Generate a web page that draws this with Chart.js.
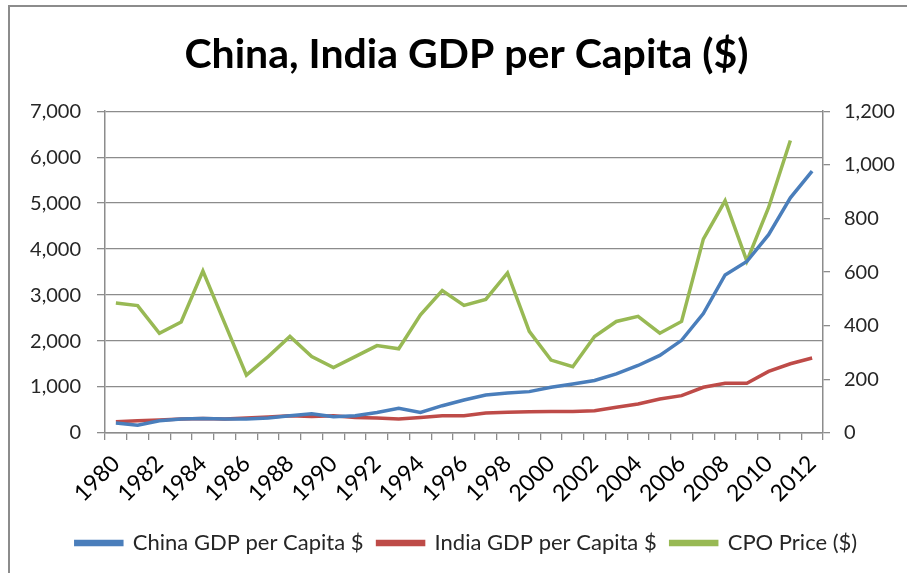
<!DOCTYPE html>
<html>
<head>
<meta charset="utf-8">
<title>China, India GDP per Capita</title>
<script src="https://cdn.jsdelivr.net/npm/chart.js@4.4.1/dist/chart.umd.min.js"></script>
<style>
    html, body { margin: 0; padding: 0; background: #fff; }
    #wrap { position: relative; width: 907px; height: 573px; overflow: hidden; }
    #frame {
        position: absolute; left: 8px; top: 5px; right: -4px; bottom: -4px;
        border-left: 2px solid #8c8c8c; border-top: 2px solid #8c8c8c;
    }
    #chart { position: absolute; left: 0; top: 0; }
</style>
</head>
<body>
<div id="wrap">
    <div id="frame"></div>
    <canvas id="chart" width="907" height="573"></canvas>
</div>
<script>
// Categories
const years = ['1980', '1981', '1982', '1983', '1984', '1985', '1986', '1987', '1988', '1989',
    '1990', '1991', '1992', '1993', '1994', '1995', '1996', '1997', '1998', '1999',
    '2000', '2001', '2002', '2003', '2004', '2005', '2006', '2007', '2008', '2009',
    '2010', '2011', '2012'];

// GDP per capita, left axis ($)
const chinaGdp = [215, 171, 266, 303, 317, 303, 303, 324, 376, 419,
    354, 376, 448, 536, 448, 594, 718, 827, 871, 900,
    995, 1068, 1141, 1287, 1469, 1688, 2016, 2599, 3438, 3730,
    4313, 5115, 5698];
const indiaGdp = [244, 266, 281, 303, 317, 303, 324, 346, 376, 361,
    376, 339, 324, 303, 339, 376, 376, 434, 449, 463,
    470, 470, 485, 558, 631, 740, 813, 995, 1083, 1083,
    1339, 1506, 1630];

// CPO price, right axis ($) - no 2012 value
const cpoPrice = [485, 475, 372, 414, 604, 410, 216, 285, 360, 285,
    244, 285, 326, 314, 441, 531, 476, 498, 597, 379,
    272, 247, 360, 416, 435, 372, 416, 723, 866, 641,
    841, 1091, null];

// Axis ranges
const leftTicks = { min: 0, max: 7000, step: 1000 };
const rightTicks = { min: 0, max: 1200, step: 200 };

const FONT = 'Lato, "Open Sans", sans-serif';
const GRID = '#8c8c8c';

function fmt(v) {
    return Number(v).toLocaleString('en-US');
}

function lineSet(label, data, color, axis) {
    return {
        label: label,
        data: data,
        yAxisID: axis,
        borderColor: color,
        backgroundColor: color,
        borderWidth: 3.5,
        pointRadius: 0,
        tension: 0,
        spanGaps: false
    };
}

new Chart(document.getElementById('chart'), {
    type: 'line',
    data: {
        labels: years,
        datasets: [
            lineSet('China GDP per Capita $', chinaGdp, '#4a7ebb', 'y'),
            lineSet('India GDP per Capita $', indiaGdp, '#be4b48', 'y'),
            lineSet('CPO Price ($)', cpoPrice, '#98b954', 'y1')
        ]
    },
    options: {
        responsive: false,
        animation: false,
        // left padding nudges the legend right; y axis width below keeps the plot at x=105
        layout: { padding: { left: 26, right: 0, top: 0, bottom: 9 } },
        plugins: {
            title: {
                display: true,
                text: 'China, India GDP per Capita ($)',
                color: '#000',
                font: { family: FONT, size: 41, weight: 'bold' },
                padding: { top: 30, bottom: 32 }
            },
            legend: {
                position: 'bottom',
                labels: {
                    color: '#262626',
                    font: { family: FONT, size: 22 },
                    boxWidth: 46,
                    boxHeight: 3,
                    padding: 14
                }
            },
            tooltip: { enabled: false }
        },
        scales: {
            x: {
                offset: true,
                grid: { offset: true, drawOnChartArea: false, color: GRID, lineWidth: 1.3, tickLength: 7 },
                border: { color: GRID, width: 1.5 },
                ticks: {
                    autoSkip: false,
                    minRotation: 45,
                    maxRotation: 45,
                    padding: 10,
                    color: '#000',
                    font: { family: FONT, size: 23 },
                    callback: function(val, i) {
                        return i % 2 === 0 ? years[i] : '';
                    }
                },
                afterFit: function(scale) { scale.height = 85; }
            },
            y: {
                position: 'left',
                min: leftTicks.min,
                max: leftTicks.max,
                grid: { color: GRID, lineWidth: 1.3, tickLength: 8 },
                border: { color: GRID, width: 1.5 },
                ticks: {
                    stepSize: leftTicks.step,
                    padding: 16,
                    color: '#262626',
                    font: { family: FONT, size: 20 },
                    callback: fmt
                },
                afterFit: function(scale) { scale.width = 79; }
            },
            y1: {
                position: 'right',
                min: rightTicks.min,
                max: rightTicks.max,
                grid: { drawOnChartArea: false, color: GRID, lineWidth: 1.3, tickLength: 7 },
                border: { color: GRID, width: 1.5 },
                ticks: {
                    stepSize: rightTicks.step,
                    padding: 14,
                    color: '#262626',
                    font: { family: FONT, size: 20 },
                    callback: fmt
                },
                afterFit: function(scale) { scale.width = 84; }
            }
        }
    }
});
</script>
</body>
</html>
